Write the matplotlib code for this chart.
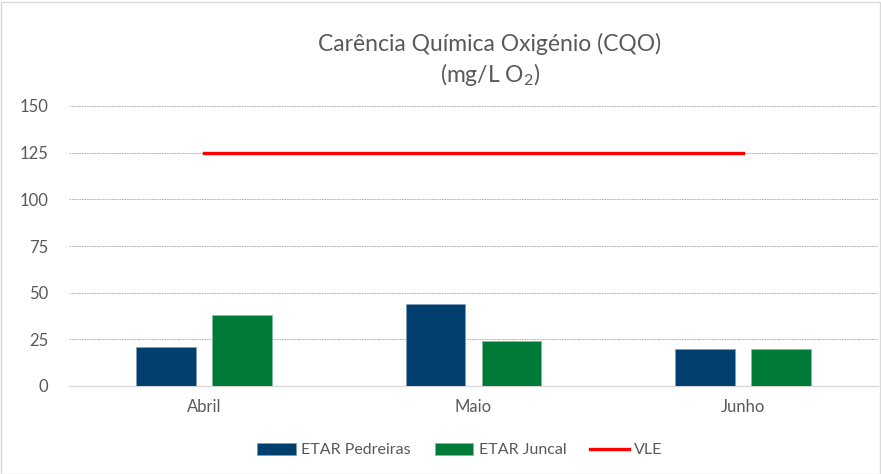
import numpy as np
import matplotlib
matplotlib.use('Agg')
import matplotlib.pyplot as plt
from matplotlib.patches import Rectangle

plt.rcParams['font.family'] = ['Lato', 'DejaVu Sans']
plt.rcParams['mathtext.fontset'] = 'custom'
plt.rcParams['mathtext.rm'] = 'Lato'
plt.rcParams['mathtext.it'] = 'Lato'

meses = ['Abril', 'Maio', 'Junho']
pedreiras = [21, 44, 20]
juncal = [38, 24, 20]
vle = [125, 125, 125]
yticks = [0, 25, 50, 75, 100, 125, 150]

cor_texto = '#595959'

fig = plt.figure(figsize=(8.81, 4.74), dpi=100)
ax = fig.add_axes([69 / 881, 1 - 386 / 474, 809 / 881, 280 / 474])

x = np.arange(len(meses))
w = 0.222
b1 = ax.bar(x - 0.141, pedreiras, w, color='#003f6e', edgecolor='#7f9fb6', linewidth=0.6,
            label='ETAR Pedreiras', zorder=3)
b2 = ax.bar(x + 0.141, juncal, w, color='#007a37', edgecolor='#7fbc9b', linewidth=0.6,
            label='ETAR Juncal', zorder=3)
l1, = ax.plot(x, vle, color='#ff0000', linewidth=2.4, label='VLE', zorder=4)

ax.set_xlim(-0.5, 2.5)
ax.set_ylim(0, 150)
ax.set_yticks(yticks)
ax.set_xticks(x)
ax.set_xticklabels(meses)
ax.grid(axis='y', color='#a6a6a6', linestyle=(0, (2, 1)), linewidth=0.6, zorder=0)
for s in ['top', 'right', 'left']:
    ax.spines[s].set_visible(False)
ax.spines['bottom'].set_color('#d9d9d9')
ax.spines['bottom'].set_linewidth(1.0)
ax.tick_params(axis='both', length=0, colors=cor_texto, labelsize=12)
ax.tick_params(axis='y', pad=15)
ax.tick_params(axis='x', pad=9)

fig.text(490 / 881, 1 - 44 / 474, 'Carência Química Oxigénio (CQO)', ha='center', va='center',
         fontsize=16.5, color=cor_texto)
fig.text(490 / 881, 1 - 74 / 474, '(mg/L O$_2$)', ha='center', va='center',
         fontsize=16.5, color=cor_texto)

leg = fig.legend([b1, b2, l1], ['ETAR Pedreiras', 'ETAR Juncal', 'VLE'],
                 loc='center', bbox_to_anchor=(460 / 881, 1 - 450 / 474), ncol=3, frameon=False,
                 fontsize=11.5, handlelength=2.4, handleheight=0.85, columnspacing=1.5,
                 handletextpad=0.35)
for t in leg.get_texts():
    t.set_color(cor_texto)

fig.patches.append(Rectangle((0.5 / 881, 0.5 / 474), 879 / 881, 472 / 474, transform=fig.transFigure,
                             fill=False, edgecolor='#d9d9d9', linewidth=1.0))

fig.savefig('out.png', dpi=100, facecolor='white')
